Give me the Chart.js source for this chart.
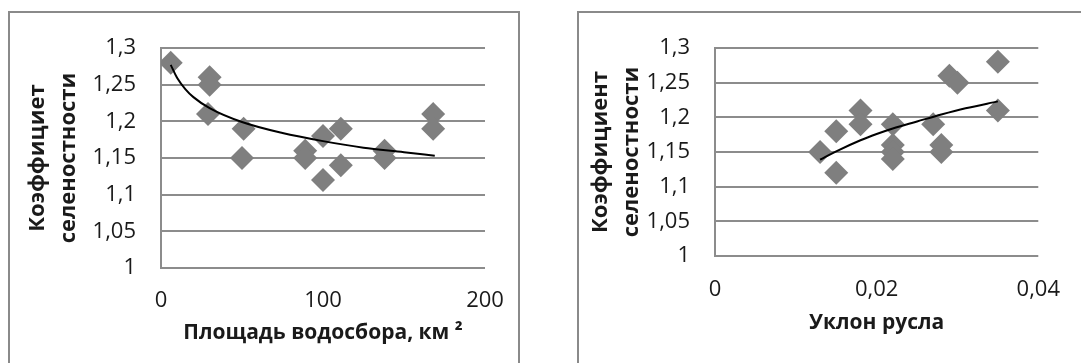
<!DOCTYPE html>
<html lang="ru">
<head>
<meta charset="utf-8">
<title>Коэффициент селеностности</title>
<script src="https://cdn.jsdelivr.net/npm/chart.js"></script>
<style>
  html, body { margin: 0; padding: 0; background: #fff; }
  body { width: 1081px; height: 363px; position: relative; overflow: hidden; }
  .frame { position: absolute; border: 2px solid #8a8a8a; box-sizing: border-box; }
  #frame-left { left: 8px; top: 11px; width: 512px; height: 400px; }
  #frame-right { left: 577px; top: 11px; width: 560px; height: 400px; }
  canvas { position: absolute; top: 0; }
  #chart-left { left: 0; }
  #chart-right { left: 540px; }
</style>
</head>
<body>
<div class="frame" id="frame-left"></div>
<div class="frame" id="frame-right"></div>
<canvas id="chart-left" width="540" height="363"></canvas>
<canvas id="chart-right" width="541" height="363"></canvas>
<script>
// площадь водосбора, км2 -> коэффициент
const areaX = [6, 30, 30, 29, 51, 50, 89, 89, 100, 100, 111, 111, 138, 138, 168, 168];
const areaY = [1.28, 1.26, 1.25, 1.21, 1.19, 1.15, 1.16, 1.15, 1.18, 1.12, 1.19, 1.14, 1.16, 1.15, 1.21, 1.19];
// линия тренда
const areaTrendX = [6, 10, 15, 20, 30, 50, 75, 100, 125, 150, 169];
const areaTrendY = [1.277, 1.259, 1.244, 1.233, 1.218, 1.199, 1.184, 1.173, 1.164, 1.158, 1.153];

// уклон русла -> коэффициент
const slopeX = [0.013, 0.015, 0.015, 0.018, 0.018, 0.022, 0.022, 0.022, 0.022, 0.027, 0.028, 0.028, 0.029, 0.030, 0.035, 0.035];
const slopeY = [1.15, 1.18, 1.12, 1.21, 1.19, 1.19, 1.16, 1.15, 1.14, 1.19, 1.16, 1.15, 1.26, 1.25, 1.28, 1.21];
const slopeTrendX = [0.013, 0.015, 0.018, 0.020, 0.022, 0.025, 0.028, 0.031, 0.035];
const slopeTrendY = [1.139, 1.151, 1.167, 1.176, 1.184, 1.194, 1.204, 1.213, 1.223];

const yTicks = ['1', '1,05', '1,1', '1,15', '1,2', '1,25', '1,3'];
const areaTicks = ['0', '100', '200'];
const slopeTicks = ['0', '0,02', '0,04'];

const GRID = '#8c8c8c';
const TEXT = '#1a1a1a';
const FONT = "'Open Sans', 'Liberation Sans', sans-serif";

const toPoints = (xs, ys) => xs.map((x, i) => ({ x, y: ys[i] }));

function makeChart(id, opts) {
  const ctx = document.getElementById(id);
  return new Chart(ctx, {
    type: 'scatter',
    data: {
      datasets: [
        {
          type: 'line',
          data: toPoints(opts.trendX, opts.trendY),
          borderColor: '#000',
          borderWidth: 2,
          pointRadius: 0,
          fill: false,
          cubicInterpolationMode: 'monotone',
          order: 0
        },
        {
          data: toPoints(opts.xs, opts.ys),
          pointStyle: 'rectRot',
          pointRadius: 12,
          pointBackgroundColor: '#7f7f7f',
          pointBorderWidth: 0,
          order: 1
        }
      ]
    },
    options: {
      responsive: false,
      animation: false,
      events: [],
      layout: { padding: { left: 0, top: 48, right: opts.padRight, bottom: 0 } },
      plugins: { legend: { display: false }, tooltip: { enabled: false } },
      scales: {
        x: {
          type: 'linear',
          min: opts.xMin,
          max: opts.xMax,
          afterFit: (s) => { s.height = opts.xHeight; },
          afterBuildTicks: (s) => {
            s.ticks = opts.xTickVals.map((v) => ({ value: v }));
          },
          grid: { display: false, drawTicks: false },
          border: { display: false },
          ticks: {
            padding: opts.xTickPad,
            color: TEXT,
            font: { family: FONT, size: 22 },
            maxRotation: 0,
            callback: (v, i) => opts.xLabels[i]
          },
          title: {
            display: true,
            text: opts.xTitle,
            color: TEXT,
            font: { family: FONT, size: 21, weight: 'bold' },
            padding: { top: 0, bottom: opts.xTitlePad }
          }
        },
        y: {
          min: 1,
          max: 1.3,
          afterFit: (s) => { s.width = opts.yWidth; },
          afterBuildTicks: (s) => {
            s.ticks = [1, 1.05, 1.1, 1.15, 1.2, 1.25, 1.3].map((v) => ({ value: v }));
          },
          grid: { color: GRID, lineWidth: 2, drawTicks: false },
          border: { display: true, color: GRID, width: 2 },
          ticks: {
            padding: 25,
            color: TEXT,
            font: { family: FONT, size: 22 },
            callback: (v, i) => yTicks[i]
          },
          title: {
            display: true,
            text: opts.yTitle,
            color: TEXT,
            font: { family: FONT, size: 22, weight: 'bold', lineHeight: '31px' },
            padding: { top: opts.yTitlePad, bottom: 0 }
          }
        }
      }
    }
  });
}

makeChart('chart-left', {
  xs: areaX, ys: areaY, trendX: areaTrendX, trendY: areaTrendY,
  xMin: 0, xMax: 200, xTickVals: [0, 100, 200], xLabels: areaTicks,
  xTitle: 'Площадь водосбора, км ²',
  yTitle: ['Коэффициет', 'селеностности'],
  padRight: 55, yWidth: 161, yTitlePad: 22,
  xHeight: 95, xTickPad: 20, xTitlePad: 17
});

makeChart('chart-right', {
  xs: slopeX, ys: slopeY, trendX: slopeTrendX, trendY: slopeTrendY,
  xMin: 0, xMax: 0.04, xTickVals: [0, 0.02, 0.04], xLabels: slopeTicks,
  xTitle: 'Уклон русла',
  yTitle: ['Коэффициент', 'селеностности'],
  padRight: 41, yWidth: 175, yTitlePad: 45,
  xHeight: 107, xTickPad: 21, xTitlePad: 27
});
</script>
</body>
</html>
